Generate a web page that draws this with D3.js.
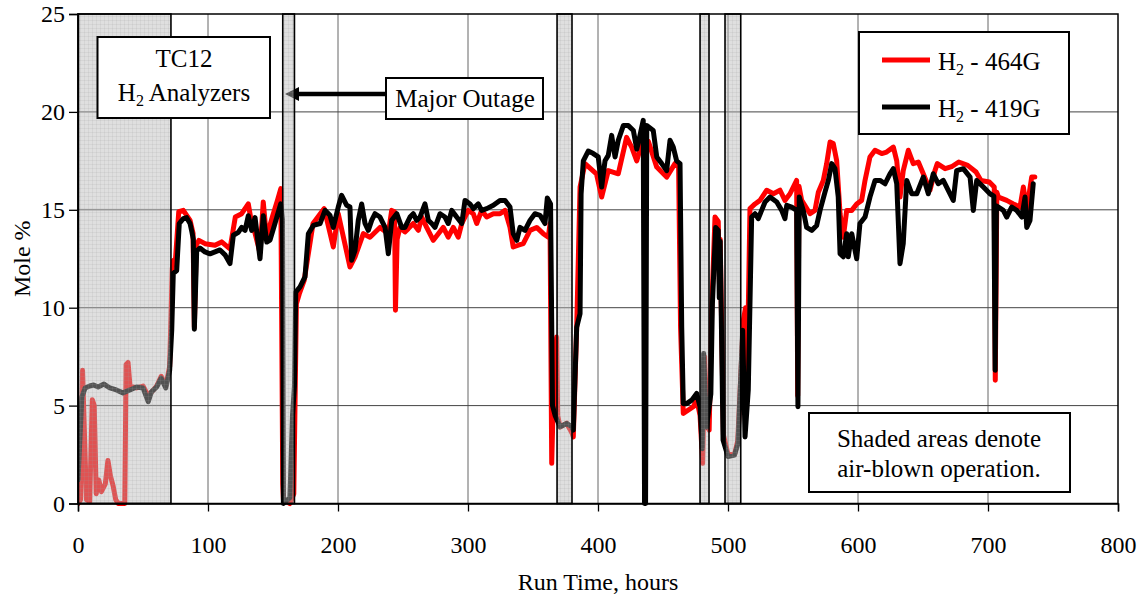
<!DOCTYPE html>
<html>
<head>
<meta charset="utf-8">
<script src="https://cdn.jsdelivr.net/npm/d3@7"></script>
<style>
  html, body { margin: 0; padding: 0; background: #fff; }
  svg { display: block; font-family: "Liberation Serif", "Times New Roman", serif; }
</style>
</head>
<body>
<svg id="chart" width="1146" height="599"></svg>
<script>
// H2 concentration from two analyzers over the TC12 run
const hours464 = [0, 2, 3.5, 5, 6.5, 9, 11, 12.5, 14, 16, 18, 21, 23, 25, 27, 29, 31, 36, 37, 38.5, 40, 45, 50, 54, 60.5, 64, 67.5, 70.5,
  72.5, 73.3, 75, 77.5, 81, 86.2, 88.5, 89.5, 91, 93, 97.7, 105.4, 110.5, 116.9, 121, 125.9, 131, 133.6, 136.2, 140, 142.5, 145, 149.5, 153.4, 156,
  157.5, 158, 163, 166, 168, 170.2, 174, 180.8, 189.4, 196.4, 200.2, 209.2, 213.1, 219.5, 224.6, 232.3, 238.7, 241.3, 243.5, 244.2, 245.5,
  247.7, 251.5, 254.1, 257.9, 261.8, 264.4, 268.2, 273.3, 277.2, 281, 284.8, 288.7, 292.5, 295.2, 300.2, 304.1, 306.7, 310.5, 314.4, 319.5,
  324.6, 328.5, 332.3, 334.8, 338.7, 342.5, 347.7, 352.8, 357.9, 361.8, 363.1, 364.4, 365.5, 368.2, 369, 370.8, 375.9,
  380, 381, 383.6, 386.2, 390, 398.8, 402.8, 407.9, 415.6, 422, 425.9, 429.8, 433.6, 438.7, 445.2, 452.8, 459.2, 462, 463.5, 465.6, 473.3, 476,
  478.5, 480.5, 482, 483.5, 485.5, 487.5, 490, 492.5, 493.5, 494, 496.5, 500, 505, 507.5, 511.8, 513.5, 514.5, 516.9, 520.8, 524.6, 529.8, 534.9,
  540, 543.8, 547.7, 552.8, 553.6, 554.6, 556.7, 563.1, 566.9, 569.5, 573.3, 575.9, 578.5, 581, 583.6, 586.2, 588.7, 591.3, 595.2, 599, 602.8,
  605.4, 609.2, 613.1, 618.2, 622, 627.2, 629.8, 632.3, 634.8, 638.7, 642.5, 646.4, 650.2, 655.4, 659.2, 661, 667, 672, 677.5, 684.4, 690.8, 694.6,
  701, 704.8, 705.6, 706.8, 708, 714.4, 719.5, 724.6, 727.2, 729.8, 733.6, 736];
const mole464 = [0, 0.2, 6.8, 3.5, 0.2, 0.1, 5.3, 5.0, 0.5, 1.2, 0.6, 1.0, 2.2, 1.4, 0.9, 0.2, 0, 0, 7.1, 7.2, 6.0, 5.9, 6.0, 5.5, 6.0, 6.5, 6.0, 7.0,
  12.0, 12.4, 12.5, 14.9, 14.97, 14.46, 13.8, 9.0, 13.2, 13.44, 13.27, 13.19, 13.36, 13.0, 14.63, 14.8, 15.3, 14.3, 13.8, 12.8, 15.4, 13.6, 14.63, 15.48, 16.08,
  1.0, 0.2, 0, 0.5, 10.2, 10.7, 11.4, 14.3, 15.06, 13.1, 14.8, 12.08, 12.6, 13.78, 13.6, 14.1, 13.78, 14.97, 14.9, 9.87, 13.5,
  14.1, 13.87, 14.04, 14.3, 13.95, 14.63, 14.1, 13.44, 13.78, 14.1, 13.6, 14.1, 13.6, 14.3, 14.97, 14.8, 14.3, 14.97, 14.63, 14.8,
  14.8, 14.97, 14.1, 13.1, 13.19, 13.27, 13.95, 14.1, 13.78, 13.6, 14.3, 2.05, 5.0, 8.5, 4.5, 3.9, 4.1,
  3.6, 3.4, 9.0, 16.16, 17.36, 16.84, 15.65, 17.0, 16.84, 18.7, 18.2, 17.5, 18.38, 18.5, 17.18, 16.67, 17.36, 17.2, 9.0, 4.6, 4.94, 5.3,
  4.5, 2.05, 7.5, 4.0, 3.75, 10.0, 14.63, 14.4, 11.0, 13.5, 3.5, 2.5, 2.5, 3.2, 9.36, 10.0, 5.5, 15.06, 15.3, 15.48, 16.0, 15.82,
  16.0, 15.48, 15.82, 16.5, 5.5, 16.2, 15.48, 14.8, 14.97, 15.9, 16.5, 17.36, 18.46, 18.38, 17.5, 14.8, 13.6, 14.97, 14.97, 15.3, 15.48,
  16.5, 17.7, 18.04, 17.87, 17.95, 18.2, 17.5, 15.65, 17.0, 18.04, 17.36, 17.44, 16.84, 16.0, 17.0, 17.36, 17.1, 17.2, 17.44, 17.27, 16.93, 16.5,
  16.42, 16.16, 6.3, 15.9, 15.65, 15.48, 15.3, 15.14, 16.16, 15.0, 16.67, 16.67];

const hours419 = [0, 3, 5.5, 9, 12, 15.5, 20, 24.5, 29.5, 34.5, 40, 45, 50, 54, 56.5, 60.5, 64, 67.5, 70.5,
  72.1, 73.3, 75.9, 77.9, 81, 83.6, 86.2, 87.5, 88.7, 89.5, 91.3, 93.8, 97.7, 101.5, 105.4, 109.2, 113.1, 116.9, 119.5, 123.3, 125.9, 128.5,
  131, 133.6, 136.2, 140, 142.5, 145.2, 147.7, 151.5, 155.9, 157.3, 158, 163, 165, 166.5, 167.5, 170.8, 174.6, 177.2, 181, 186.2, 190, 193.8,
  196.4, 200.2, 202.8, 206.7, 209.2, 210.5, 213.1, 215.6, 218.2, 220.8, 223.3, 225.9, 228.5, 232.3, 236.2, 238.7, 241.3, 245.2, 249, 251.5,
  255.4, 257.9, 260.5, 263.1, 266.9, 269.5, 272.1, 274.6, 278.5, 282.3, 284.8, 287.5, 291.3, 295.2, 297.7, 301.5, 304.1, 307.9, 310.5, 314.4,
  319.5, 324.6, 328.5, 332.3, 334.8, 337.5, 340, 343.8, 347.7, 351.5, 355.4, 359.2, 361, 363.5, 365, 367, 370.8, 375.9, 379.8, 381, 383.6,
  386.2, 387, 388.7, 392.5, 396.4, 400.2, 402.8, 405.4, 407.9, 410.5, 413.1, 415.6, 419.5, 423.3, 427.2, 429.8, 432.3, 434.8, 435.8, 436.6,
  437.5, 442.5, 445.2, 449, 452.8, 455.4, 457.9, 460.5, 463.1, 464.4, 465.6, 468.2, 472.1, 475.9, 478.5, 480.2, 481.3, 483.5, 486.8, 488,
  490.5, 492.5, 493.3, 494, 496.2, 500, 505, 507.7, 511.3, 513.1, 515.6, 518.2, 520.8, 523.3, 528.5, 532.3, 537.5, 541.3, 543.8, 545.2, 549,
  552.8, 553.8, 554.8, 557.9, 560.5, 564.4, 568.2, 570.8, 574.6, 577.2, 579.8, 582.3, 584.8, 586.2, 588.7, 591.3, 592.5, 595.2, 599, 601.5,
  605.4, 609.2, 613.1, 616.9, 620.8, 624.6, 627.2, 629.8, 632.3, 634.8, 637.5, 641.3, 645.2, 650.2, 654.1, 657.9, 661.8, 665.6, 673.3, 675.9,
  681, 686.2, 688.7, 691.3, 696.4, 701.5, 704.5, 705.5, 706.5, 708, 711.8, 714.4, 718.2, 722.1, 726, 728.5, 729.8, 732.3, 734.8];
const mole419 = [1.2, 5.45, 5.9, 6.0, 6.05, 5.95, 6.1, 5.9, 5.8, 5.65, 5.8, 5.95, 5.9, 5.2, 5.7, 5.95, 6.4, 5.9, 6.8,
  8.85, 11.75, 11.9, 14.3, 14.55, 14.6, 14.3, 13.9, 13.5, 8.9, 12.9, 13.05, 12.85, 12.75, 12.85, 12.95, 12.7, 12.25, 13.7, 13.85, 14.1, 13.95,
  14.7, 13.95, 14.6, 12.5, 14.7, 13.35, 13.45, 14.3, 15.3, 14.5, 0, 0.3, 4.5, 6.0, 10.8, 11.06, 11.57, 13.78, 14.2, 14.3, 14.97, 14.72,
  14.1, 15.14, 15.74, 15.23, 15.14, 12.42, 12.93, 14.46, 15.3, 14.3, 13.95, 14.46, 14.8, 14.63, 14.1, 12.76, 14.46, 14.8, 14.1, 14.1,
  14.63, 14.8, 14.46, 14.63, 15.3, 14.46, 14.3, 14.1, 14.8, 14.63, 14.3, 14.97, 14.63, 14.3, 15.48, 15.3, 15.06, 15.3, 14.97, 15.06,
  15.23, 15.48, 15.48, 15.14, 13.78, 13.44, 14.1, 13.95, 14.46, 14.8, 14.72, 14.3, 15.6, 15.3, 5.0, 4.5, 3.92, 4.09, 3.92, 3.75, 9.0,
  9.7, 15.8, 17.5, 18.0, 17.87, 17.7, 16.16, 17.5, 17.78, 18.8, 17.7, 18.55, 19.3, 19.3, 19.05, 18.1, 18.8, 19.57, 0, 0,
  19.3, 19.05, 17.7, 17.36, 17.0, 18.55, 18.2, 17.5, 17.36, 9.0, 5.1, 5.1, 5.28, 5.62, 4.94, 2.8, 7.66, 3.9, 5.6, 10.2,
  14.1, 13.95, 10.5, 13.4, 3.24, 2.4, 2.47, 3.07, 8.85, 3.4, 5.8, 14.63, 14.8, 14.55, 15.4, 15.65, 15.4, 14.97, 14.55, 15.23, 15.14,
  14.97, 4.94, 15.65, 14.97, 14.1, 13.95, 14.2, 14.97, 15.9, 16.5, 17.36, 17.1, 15.65, 12.76, 12.6, 13.78, 12.6, 13.78, 12.5, 14.3,
  14.63, 15.65, 16.5, 16.5, 16.33, 16.84, 17.1, 16.33, 12.25, 13.27, 16.5, 15.82, 15.82, 16.67, 15.82, 16.84, 16.33, 16.5, 15.48, 17.0,
  17.1, 16.67, 14.97, 16.5, 16.16, 15.82, 15.7, 6.8, 15.2, 15.14, 14.97, 14.63, 15.14, 14.97, 14.63, 15.65, 14.1, 14.46, 16.33];

// Periods of air-blown operation (hours)
const airBlownStart = [0, 157.5, 368.5, 478.5, 497.7];
const airBlownEnd = [71.5, 166.5, 380, 485.4, 509.8];

const xTicks = [0, 100, 200, 300, 400, 500, 600, 700, 800];
const yTicks = [0, 5, 10, 15, 20, 25];

const svg = d3.select("#chart");
const plotLeft = 78, plotRight = 1118, plotTop = 14, plotBottom = 503.5;

const x = d3.scaleLinear().domain([0, 800]).range([plotLeft, plotRight]);
const y = d3.scaleLinear().domain([0, 25]).range([plotBottom, plotTop]);

// fine grid pattern used for the air-blown bands
const defs = svg.append("defs");
const pat = defs.append("pattern")
  .attr("id", "airgrid").attr("patternUnits", "userSpaceOnUse")
  .attr("width", 4).attr("height", 4);
pat.append("rect").attr("width", 4).attr("height", 4)
  .attr("fill", "rgb(185,185,185)").attr("fill-opacity", 0.45);
pat.append("path").attr("d", "M0,0.5H4M0.5,0V4")
  .attr("stroke", "rgb(150,150,150)").attr("stroke-opacity", 0.15).attr("stroke-width", 1);

defs.append("clipPath").attr("id", "plotclip")
  .append("rect").attr("x", plotLeft).attr("y", plotTop - 4)
  .attr("width", plotRight - plotLeft).attr("height", plotBottom - plotTop + 8);

// gridlines
svg.append("g").selectAll("line").data(xTicks.slice(1, -1)).join("line")
  .attr("x1", d => x(d)).attr("x2", d => x(d)).attr("y1", plotTop).attr("y2", plotBottom)
  .attr("stroke", "#666").attr("stroke-width", 1);
svg.append("g").selectAll("line").data(yTicks.slice(1, -1)).join("line")
  .attr("x1", plotLeft).attr("x2", plotRight).attr("y1", d => y(d)).attr("y2", d => y(d))
  .attr("stroke", "#444").attr("stroke-width", 1);

// series
const plot = svg.append("g").attr("clip-path", "url(#plotclip)");
const line = d3.line().x(d => x(d[0])).y(d => y(d[1]));
plot.append("path")
  .attr("d", line(d3.zip(hours464, mole464)))
  .attr("fill", "none").attr("stroke", "#ff0000").attr("stroke-width", 5)
  .attr("stroke-linejoin", "round").attr("stroke-linecap", "round");
plot.append("path")
  .attr("d", line(d3.zip(hours419, mole419)))
  .attr("fill", "none").attr("stroke", "#000").attr("stroke-width", 5)
  .attr("stroke-linejoin", "round").attr("stroke-linecap", "round");

// arrow pointing at the major outage
const arrowY = 94;
svg.append("line").attr("x1", 386).attr("x2", 296).attr("y1", arrowY).attr("y2", arrowY)
  .attr("stroke", "#000").attr("stroke-width", 4.5);
svg.append("path")
  .attr("d", `M285,${arrowY} L299,${arrowY - 7} L299,${arrowY + 7} Z`)
  .attr("fill", "#000");

// air-blown bands
svg.append("g").selectAll("rect").data(d3.zip(airBlownStart, airBlownEnd)).join("rect")
  .attr("x", d => x(d[0])).attr("y", plotTop)
  .attr("width", d => x(d[1]) - x(d[0])).attr("height", plotBottom - plotTop)
  .attr("fill", "url(#airgrid)").attr("stroke", "#000").attr("stroke-width", 1.6);

// plot frame and axes
svg.append("rect").attr("x", plotLeft).attr("y", plotTop)
  .attr("width", plotRight - plotLeft).attr("height", plotBottom - plotTop)
  .attr("fill", "none").attr("stroke", "#000").attr("stroke-width", 1.5);

const xAxis = svg.append("g").attr("transform", `translate(0,${plotBottom})`)
  .call(d3.axisBottom(x).tickValues(xTicks).tickSize(8).tickPadding(24).tickFormat(d3.format("d")));
const yAxis = svg.append("g").attr("transform", `translate(${plotLeft},0)`)
  .call(d3.axisLeft(y).tickValues(yTicks).tickSize(9).tickPadding(4).tickFormat(d3.format("d")));
[xAxis, yAxis].forEach(a => {
  a.select(".domain").attr("stroke", "#000").attr("stroke-width", 1.5);
  a.selectAll(".tick line").attr("stroke", "#000").attr("stroke-width", 1.3);
  a.selectAll(".tick text").attr("fill", "#000")
    .style("font-family", "'Liberation Serif', 'Times New Roman', serif").style("font-size", "24px");
});

svg.append("text").attr("x", (plotLeft + plotRight) / 2).attr("y", 590).attr("text-anchor", "middle")
  .style("font-size", "24px").text("Run Time, hours");
svg.append("text").attr("transform", `translate(30,${(plotTop + plotBottom) / 2}) rotate(-90)`)
  .attr("text-anchor", "middle").style("font-size", "24px").text("Mole %");

// helper for "H2" style text with subscript
function h2Text(sel, rest) {
  sel.append("tspan").text("H");
  sel.append("tspan").attr("dy", 5).style("font-size", "16px").text("2");
  sel.append("tspan").attr("dy", -5).text(rest);
}

// TC12 label box
svg.append("rect").attr("x", 97.5).attr("y", 37).attr("width", 172.5).attr("height", 81)
  .attr("fill", "#fff").attr("stroke", "#000").attr("stroke-width", 2);
svg.append("text").attr("x", 184).attr("y", 67).attr("text-anchor", "middle")
  .style("font-size", "25px").text("TC12");
h2Text(svg.append("text").attr("x", 184).attr("y", 101).attr("text-anchor", "middle").style("font-size", "25px"), " Analyzers");

// Major outage box
svg.append("rect").attr("x", 386).attr("y", 78).attr("width", 157).attr("height", 41)
  .attr("fill", "#fff").attr("stroke", "#000").attr("stroke-width", 2);
svg.append("text").attr("x", 465).attr("y", 107).attr("text-anchor", "middle")
  .style("font-size", "25px").text("Major Outage");

// shaded-area note
svg.append("rect").attr("x", 809).attr("y", 413).attr("width", 261).attr("height", 79)
  .attr("fill", "#fff").attr("stroke", "#000").attr("stroke-width", 2);
svg.append("text").attr("x", 939).attr("y", 447).attr("text-anchor", "middle")
  .style("font-size", "25px").text("Shaded areas denote");
svg.append("text").attr("x", 939).attr("y", 477).attr("text-anchor", "middle")
  .style("font-size", "25px").text("air-blown operation.");

// legend
const legendNames = [" - 464G", " - 419G"];
const legendColors = ["#ff0000", "#000"];
svg.append("rect").attr("x", 859).attr("y", 32).attr("width", 210).attr("height", 102)
  .attr("fill", "#fff").attr("stroke", "#000").attr("stroke-width", 2);
legendNames.forEach((name, i) => {
  const ly = 60 + i * 47;
  svg.append("line").attr("x1", 882).attr("x2", 930).attr("y1", ly).attr("y2", ly)
    .attr("stroke", legendColors[i]).attr("stroke-width", 5);
  h2Text(svg.append("text").attr("x", 938).attr("y", ly + 10).style("font-size", "25px"), name);
});
</script>
</body>
</html>
